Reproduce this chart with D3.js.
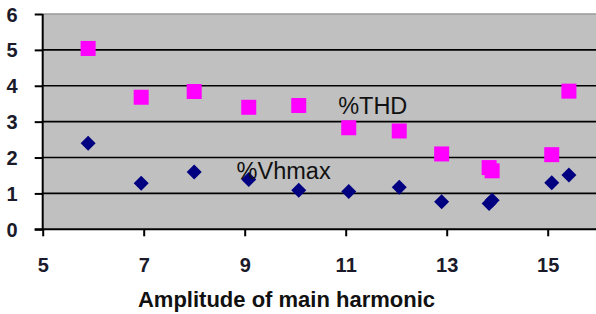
<!DOCTYPE html>
<html><head><meta charset="utf-8">
<script src="https://cdn.jsdelivr.net/npm/d3@7"></script>
<style>html,body{margin:0;padding:0;background:#fff;overflow:hidden}svg{display:block}</style>
</head><body>
<script>
const amplitude = [5.9, 6.95, 8.0, 9.08, 10.07, 11.06, 12.06, 12.9, 13.84, 13.9, 15.08, 15.42];
const thd = [5.04, 3.68, 3.84, 3.40, 3.45, 2.83, 2.74, 2.10, 1.72, 1.63, 2.08, 3.85];
const vhmax = [2.40, 1.28, 1.60, 1.39, 1.09, 1.05, 1.17, 0.77, 0.72, 0.81, 1.30, 1.51];
const xTicks = [5, 7, 9, 11, 13, 15];
const yTicks = [0, 1, 2, 3, 4, 5, 6];
const xTitle = "Amplitude of main harmonic";
const seriesLabels = [{text: "%THD", x: 10.85, y: 3.22}, {text: "%Vhmax", x: 8.84, y: 1.41}];

const W = 596, H = 314;
const svg = d3.select("body").append("svg").attr("width", W).attr("height", H);
const x = d3.scaleLinear().domain([5, 16]).range([42.7, 598.2]);
const y = d3.scaleLinear().domain([0, 6]).range([229.3, 14]);

svg.append("rect").attr("x", x(5)).attr("y", y(6)).attr("width", W - x(5)).attr("height", y(0) - y(6)).attr("fill", "#c0c0c0");
// top border
svg.append("line").attr("x1", x(5)).attr("x2", W).attr("y1", y(6)).attr("y2", y(6)).attr("stroke", "#9a9a9a").attr("stroke-width", 1.5);
// grid
svg.append("g").selectAll("line").data(yTicks.filter(d => d > 0 && d < 6)).join("line")
  .attr("x1", x(5)).attr("x2", W).attr("y1", d => y(d)).attr("y2", d => y(d))
  .attr("stroke", "#000").attr("stroke-width", 1.6);

const yAxis = svg.append("g").attr("transform", `translate(${x(5)},0)`)
  .call(d3.axisLeft(y).tickValues(yTicks).tickSize(8).tickPadding(17).tickFormat(d3.format("d")));
const xAxis = svg.append("g").attr("transform", `translate(0,${y(0)})`)
  .call(d3.axisBottom(x).tickValues(xTicks).tickSize(7).tickPadding(22).tickFormat(d3.format("d")));
[yAxis, xAxis].forEach(g => {
  g.selectAll(".tick line").attr("stroke", "#000").attr("stroke-width", 2);
  g.selectAll(".tick text").attr("font-family", "Liberation Sans, Arial, sans-serif").attr("font-size", 20).attr("font-weight", "bold").attr("fill", "#1a1a2a");
});
yAxis.select(".domain").remove();
xAxis.select(".domain").remove();
svg.append("line").attr("x1", x(5)).attr("x2", x(5)).attr("y1", y(6)).attr("y2", y(0)).attr("stroke", "#000").attr("stroke-width", 2);
svg.append("line").attr("x1", x(5) - 8).attr("x2", W).attr("y1", y(0)).attr("y2", y(0)).attr("stroke", "#000").attr("stroke-width", 2);
yAxis.selectAll(".tick text").attr("dy", "0.35em");
xAxis.selectAll(".tick text").attr("dy", "0.71em");

const pts = amplitude.map((a, i) => ({a, t: thd[i], v: vhmax[i]}));
svg.append("g").selectAll("rect").data(pts).join("rect")
  .attr("x", d => x(d.a) - 7.5).attr("y", d => y(d.t) - 7.5).attr("width", 15).attr("height", 15).attr("fill", "#ff00ff");
svg.append("g").selectAll("path").data(pts).join("path")
  .attr("transform", d => `translate(${x(d.a)},${y(d.v)})`)
  .attr("d", "M0,-7.5L7.5,0L0,7.5L-7.5,0Z").attr("fill", "#000080");

svg.append("g").selectAll("text").data(seriesLabels).join("text")
  .attr("x", d => x(d.x)).attr("y", d => y(d.y))
  .attr("font-family", "Liberation Sans, Arial, sans-serif").attr("font-size", 23.5).attr("fill", "#111")
  .text(d => d.text);

svg.append("text").attr("x", 286.5).attr("y", 306.5).attr("text-anchor", "middle")
  .attr("font-family", "Liberation Sans, Arial, sans-serif").attr("font-size", 22).attr("font-weight", "bold").attr("fill", "#111")
  .text(xTitle);
</script>
</body></html>
